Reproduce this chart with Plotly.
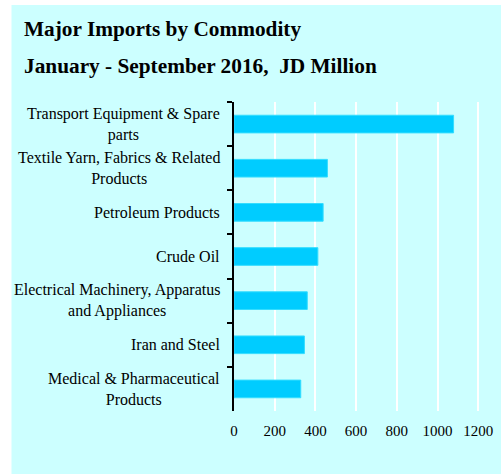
import plotly.graph_objects as go

categories = [
    "Transport Equipment & Spare<br>parts",
    "Textile Yarn, Fabrics & Related<br>Products",
    "Petroleum Products",
    "Crude Oil",
    "Electrical Machinery, Apparatus<br>and Appliances",
    "Iran and Steel",
    "Medical & Pharmaceutical<br>Products",
]
values = [1079, 459, 438, 412, 360, 346, 328]
x_ticks = [0, 200, 400, 600, 800, 1000, 1200]

W, H = 501, 474
L, R, T, B = 234, 493, 102, 411
x_range = [0, 1253]

fig = go.Figure(go.Bar(
    y=categories, x=values, orientation="h",
    marker=dict(color="#00CCFF", line=dict(color="#33DDFF", width=1)),
    width=0.4,
))

serif = "Liberation Serif, Times New Roman, serif"
fig.update_layout(
    width=W, height=H,
    margin=dict(l=L, r=W - R, t=T, b=H - B, pad=0),
    paper_bgcolor="white",
    plot_bgcolor="#CCFFFF",
    showlegend=False,
    font=dict(family=serif, size=15, color="black"),
    xaxis=dict(range=x_range, tickvals=x_ticks, showgrid=True, gridcolor="white",
               gridwidth=2, zeroline=False, showline=False, ticks="",
               ticklabelstandoff=9, tickfont=dict(size=15), fixedrange=True),
    yaxis=dict(autorange="reversed", showline=True, linecolor="black", linewidth=2,
               ticks="outside", tickson="boundaries", ticklen=5, tickwidth=2,
               tickcolor="black", showgrid=False, showticklabels=False, fixedrange=True),
    bargap=0.6,
)

def px_to_paper_x(px):
    return (px - L) / (R - L)

def px_to_paper_y(py):
    return (B - py) / (B - T)

fig.add_shape(type="rect", xref="paper", yref="paper",
              x0=px_to_paper_x(8), x1=px_to_paper_x(W + 5),
              y0=px_to_paper_y(H + 5), y1=px_to_paper_y(5),
              fillcolor="#CCFFFF", line=dict(width=0), layer="below")

for cat in categories:
    fig.add_annotation(text=cat, xref="paper", yref="y", x=px_to_paper_x(222), y=cat,
                       xanchor="right", yanchor="middle", align="center", showarrow=False,
                       font=dict(family=serif, size=16, color="black"))

fig.add_annotation(text="<b>Major Imports by Commodity</b>", xref="paper", yref="paper",
                   x=px_to_paper_x(19), y=px_to_paper_y(29), xanchor="left", yanchor="middle",
                   showarrow=False, font=dict(family=serif, size=21.3, color="black"))
fig.add_annotation(text="<b>January - September 2016,  JD Million</b>", xref="paper", yref="paper",
                   x=px_to_paper_x(19), y=px_to_paper_y(66), xanchor="left", yanchor="middle",
                   showarrow=False, font=dict(family=serif, size=21.3, color="black"))

fig.write_html("out.html", config={"displayModeBar": False},
               post_script="document.body.style.margin='0';document.body.style.overflow='hidden';")
